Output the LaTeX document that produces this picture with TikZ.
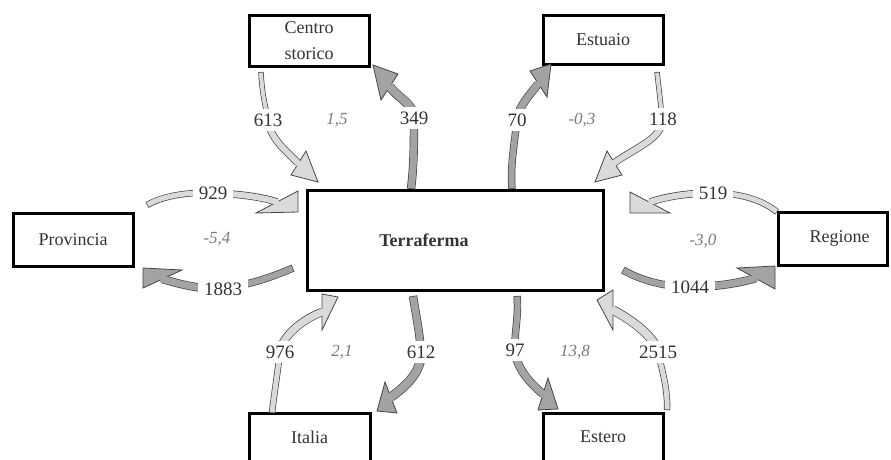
\documentclass[tikz,border=0pt]{standalone}
\usepackage{fontspec}
\setmainfont{Liberation Serif}
\usetikzlibrary{calc}
\definecolor{inflow}{HTML}{DADADA}
\definecolor{outflow}{HTML}{A3A3A3}
\definecolor{rim}{HTML}{454545}
\definecolor{boxtext}{HTML}{333333}
\definecolor{saldo}{HTML}{7A7A7A}

\tikzset{
  place/.style={draw=black, line width=3pt, fill=white, text=boxtext,
    font=\fontsize{18}{26}\selectfont, align=center, inner sep=0pt},
  qty/.style={fill=white, inner xsep=6pt, inner ysep=5pt, text=boxtext,
    font=\fontsize{19}{20}\selectfont},
  bal/.style={text=saldo, font=\fontsize{17}{20}\selectfont\itshape},
}

% #1 fill, #2 width of first piece, #3 first piece, #4 width of second piece,
% #5 second piece (ends at the middle of the head base), #6 head "(B1) -- (T) -- (B2)"
\newcommand\flowarrow[6]{%
  \draw[line width=#2+1.4pt, rim] #3;
  \draw[line width=#4+1.4pt, rim] #5;
  \filldraw[fill=#1, draw=rim, line width=0.8pt, line join=miter] #6 -- cycle;
  \draw[line width=#2, #1, shorten <=0.7pt] #3;
  \draw[line width=#4, #1, shorten >=-1.5pt] #5;
}

\begin{document}
\begin{tikzpicture}[x=1pt, y=-1pt]
\useasboundingbox (0,0) rectangle (891,459);
\clip (0,0) rectangle (891,459);

% places
\node[place, minimum width=296, minimum height=100] (terra) at (455,240) {};
\node[text=boxtext, font=\fontsize{18}{20}\selectfont\bfseries] (terraname) at (424,240) {Terraferma};
\node[place, minimum width=120, minimum height=51] (centro) at (309,40.5) {Centro\\storico};
\node[place, minimum width=120, minimum height=49] (estuaio) at (603,39.5) {Estuaio};
\node[place, minimum width=120, minimum height=53] (provincia) at (73,239.5) {Provincia};
\node[place, minimum width=109, minimum height=53, text width=109, align=center,
      xshift=0pt] (regione) at (832.5,238.5) {\hspace*{14pt}Regione};
\node[place, minimum width=121, minimum height=48] (italia) at (309.5,437) {Italia};
\node[place, minimum width=120, minimum height=48] (estero) at (603,437) {Estero};

% flows: Centro storico
\flowarrow{inflow}{4pt}{(261,72) .. controls (262,95) and (266,108) .. (268,120)}
  {6pt}{(268,120) .. controls (270,138) and (285,150) .. (298,163)}
  {(306,151) -- (318,182) -- (291,175)}
\flowarrow{outflow}{7pt}{(411,189) .. controls (414,165) and (414,140) .. (414,118)}
  {8pt}{(414,118) .. controls (414,104) and (398,98) .. (390,87)}
  {(381,100) -- (373,65) -- (398,74)}
% Estuaio
\flowarrow{outflow}{6pt}{(512,189) .. controls (510,165) and (515,140) .. (517,120)}
  {7pt}{(517,120) .. controls (519,105) and (530,95) .. (538,84)}
  {(530,71) -- (551,64) -- (547,97)}
\flowarrow{inflow}{4pt}{(657,72) .. controls (659,90) and (661,105) .. (662,120)}
  {6pt}{(662,120) .. controls (663,138) and (635,148) .. (614,163)}
  {(607,151) -- (595,182) -- (622,175)}
% Provincia
\flowarrow{inflow}{5pt}{(147,205) .. controls (165,195) and (190,192) .. (213,193)}
  {6pt}{(213,193) .. controls (240,194) and (262,197) .. (277,202)}
  {(298,191) -- (298,212) -- (256,213)}
\flowarrow{outflow}{6pt}{(293,268) .. controls (270,278) and (245,286) .. (223,288)}
  {7pt}{(223,288) .. controls (200,290) and (180,284) .. (162,279)}
  {(182,270) -- (143,268) -- (143,288)}
% Regione
\flowarrow{inflow}{5pt}{(777,212) .. controls (760,198) and (735,193) .. (713,193)}
  {6pt}{(713,193) .. controls (690,193) and (668,196) .. (650,202)}
  {(630,192) -- (630,213) -- (670,213)}
\flowarrow{outflow}{6pt}{(623,270) .. controls (640,280) and (665,287) .. (690,287)}
  {7pt}{(690,287) .. controls (715,287) and (740,283) .. (756,278)}
  {(737,268) -- (775,266) -- (775,289)}
% Italia
\flowarrow{inflow}{5pt}{(272,413) .. controls (274,395) and (278,370) .. (280,352)}
  {7pt}{(280,352) .. controls (282,335) and (305,318) .. (322,312)}
  {(322,294) -- (338,297) -- (322,330)}
\flowarrow{outflow}{7pt}{(413,296) .. controls (416,315) and (420,335) .. (421,352)}
  {8pt}{(421,352) .. controls (422,372) and (405,387) .. (391,397)}
  {(385,382) -- (377,411) -- (397,413)}
% Estero
\flowarrow{outflow}{6pt}{(517,296) .. controls (519,315) and (514,335) .. (515,350)}
  {7pt}{(515,350) .. controls (516,368) and (530,383) .. (543,394)}
  {(548,378) -- (558,409) -- (538,410)}
\flowarrow{inflow}{5pt}{(667,410) .. controls (668,390) and (662,370) .. (658,352)}
  {8pt}{(658,352) .. controls (654,335) and (628,318) .. (613,310)}
  {(613,290) -- (597,300) -- (613,330)}

% flow sizes
\node[qty] (q613) at (268,120) {613};
\node[qty] (q349) at (414,118) {349};
\node[qty] (q70) at (517,120) {70};
\node[qty] (q118) at (663,119) {118};
\node[qty] (q929) at (213,193) {929};
\node[qty] (q1883) at (223,289) {1883};
\node[qty] (q519) at (713,193) {519};
\node[qty] (q1044) at (690,287) {1044};
\node[qty] (q976) at (280,352) {976};
\node[qty] (q612) at (421,352) {612};
\node[qty] (q97) at (515,350) {97};
\node[qty] (q2515) at (658,352) {2515};

% balances
\node[bal] (b1) at (337,120) {1,5};
\node[bal] (b2) at (582,120) {-0,3};
\node[bal] (b3) at (217,239) {-5,4};
\node[bal] (b4) at (703,241) {-3,0};
\node[bal] (b5) at (342,352) {2,1};
\node[bal] (b6) at (575,352) {13,8};
\end{tikzpicture}
\end{document}
